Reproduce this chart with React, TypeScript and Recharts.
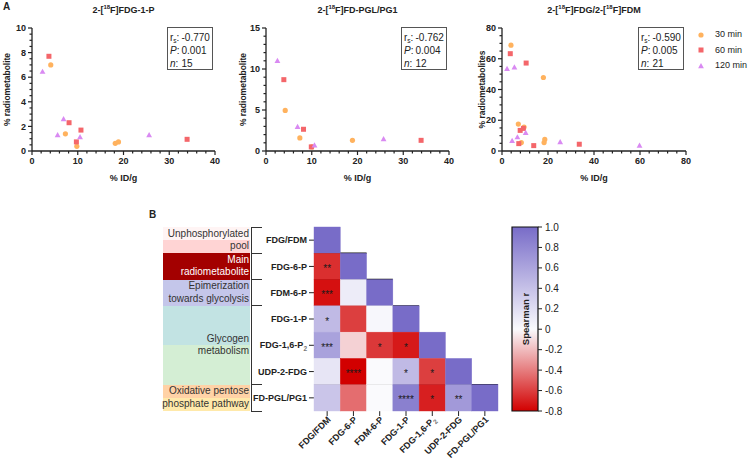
import React from 'react';
import {
  ScatterChart, Scatter, XAxis, YAxis, Legend, ReferenceLine, BarChart, Bar,
} from 'recharts';

const FONT = '"Liberation Sans", Arial, Helvetica, sans-serif';
const INK = '#222';

// ---- panel A ----
const timePoints = ['30 min', '60 min', '120 min'];
const timeColors = ['#ffb25e', '#f4666a', '#d98af2'];
const timeShapes = ['circle', 'square', 'triangle'];

// [% ID/g, % radiometabolite]
const fdg1p30 = [[4.1, 7.0], [7.3, 1.4], [9.8, 0.38], [18.2, 0.62], [18.9, 0.74]];
const fdg1p60 = [[3.7, 7.7], [8.1, 2.3], [10.7, 1.7], [9.7, 0.74], [33.9, 0.95]];
const fdg1p120 = [[2.3, 6.45], [6.9, 2.6], [5.6, 1.3], [10.5, 1.13], [25.6, 1.3]];

const pgl30 = [[4.2, 4.95], [7.4, 1.6], [10.0, 0.5], [18.9, 1.3]];
const pgl60 = [[3.9, 8.7], [8.2, 2.65], [9.9, 0.5], [33.9, 1.3]];
const pgl120 = [[2.5, 11.0], [6.9, 2.95], [10.6, 0.7], [25.7, 1.45]];

const fdm30 = [[3.9, 68.8], [18.0, 47.8], [7.1, 17.5], [9.6, 15.6], [8.4, 5.5], [18.6, 7.5], [18.3, 5.5]];
const fdm60 = [[3.6, 63.3], [10.5, 57.2], [7.9, 13.4], [9.3, 14.7], [7.3, 4.8], [13.8, 3.5], [33.6, 4.4]];
const fdm120 = [[2.2, 53.5], [5.4, 54.4], [4.4, 6.6], [6.7, 9.0], [10.3, 11.8], [25.3, 5.9], [59.8, 3.5]];

const fdg1pStats = ['-0.770', '0.001', '15'];
const pglStats = ['-0.762', '0.004', '12'];
const fdmStats = ['-0.590', '0.005', '21'];

// ---- panel B ----
const metabolites = ['FDG/FDM', 'FDG-6-P', 'FDM-6-P', 'FDG-1-P', 'FDG-1,6-P₂', 'UDP-2-FDG', 'FD-PGL/PG1'];
const spearman = [
  [1],
  [-0.65, 1],
  [-0.75, 0.1, 1],
  [0.45, -0.6, 0.02, 1],
  [0.62, -0.13, -0.62, -0.72, 1],
  [0.15, -0.8, 0.0, 0.45, -0.6, 1],
  [0.37, -0.45, 0.0, 0.86, -0.7, 0.68, 1],
];
const significance = [
  [''],
  ['**', ''],
  ['***', '', ''],
  ['*', '', '', ''],
  ['***', '', '*', '*', ''],
  ['', '****', '', '*', '*', ''],
  ['', '', '', '****', '*', '**', ''],
];
const colorbarTicks = [1, 0.8, 0.6, 0.4, 0.2, 0, -0.2, -0.4, -0.6, -0.8];

const groupNames = [
  ['Unphosphorylated', 'pool'],
  ['Main', 'radiometabolite'],
  ['Epimerization', 'towards glycolysis'],
  ['Glycogen', 'metabolism'],
  ['Oxidative pentose', 'phosphate pathway'],
];
const groupSizes = [1, 1, 1, 3, 1];
const groupColors = [
  ['#fff4f4', '#ffd4d4'],
  ['#a30000', '#a30000'],
  ['#c4c6ea', '#c4c6ea'],
  ['#c2e3e3', '#d4eed4'],
  ['#ffd2a6', '#ffe9aa'],
];

const toPts = (arr: number[][]) => arr.map(([x, y]) => ({ x, y }));
const steps = (max: number, step: number) => {
  const out: number[] = [];
  for (let v = 0; v <= max + 1e-9; v += step) out.push(Math.round(v * 100) / 100);
  return out;
};

const BLUE = [120, 108, 200];
const REDC = [210, 0, 0];
const WHITE = [250, 250, 253];
function rColor(v: number) {
  const end = v >= 0 ? BLUE : REDC;
  const t = v >= 0 ? v : Math.min(1, -v / 0.8);
  const c = WHITE.map((w, i) => Math.round(w + (end[i] - w) * t));
  return `rgb(${c.join(',')})`;
}

const renderName = (name: string) =>
  name.includes('₂') ? (
    <>
      {name.replace('₂', '')}
      <tspan fontSize={6.5} dy={2.5} fill="#777">2</tspan>
    </>
  ) : name;

const Marker = ({ type, color, cx, cy }: { type: string; color: string; cx: number; cy: number }) => {
  if (type === 'square') return <rect x={cx - 2.5} y={cy - 2.5} width={5} height={5} fill={color} />;
  if (type === 'triangle')
    return <polygon points={`${cx},${cy - 3} ${cx + 2.9},${cy + 2.2} ${cx - 2.9},${cy + 2.2}`} fill={color} />;
  return <circle cx={cx} cy={cy} r={2.6} fill={color} />;
};

const XTick = (p: any) => {
  const major = p.major.includes(p.payload.value);
  return (
    <g>
      <line x1={p.x} x2={p.x} y1={p.y} y2={p.y + (major ? 4 : 2.5)} stroke={INK} strokeWidth={1.2} />
      {major && (
        <text x={p.x} y={p.y + 6} dy="0.75em" textAnchor="middle" fontSize={9} fontWeight={700} fill={INK}>
          {p.payload.value}
        </text>
      )}
    </g>
  );
};

const YTick = (p: any) => {
  const major = p.major.includes(p.payload.value);
  return (
    <g>
      <line x1={p.x - (major ? 4 : 2.5)} x2={p.x} y1={p.y} y2={p.y} stroke={INK} strokeWidth={1.2} />
      {major && (
        <text x={p.x - 6} y={p.y} dy="0.35em" textAnchor="end" fontSize={9} fontWeight={700} fill={INK}>
          {p.payload.value}
        </text>
      )}
    </g>
  );
};

const TimeLegend = ({ payload }: any) => {
  const items = [...(payload || [])].sort(
    (a: any, b: any) => timePoints.indexOf(a.value) - timePoints.indexOf(b.value),
  );
  return (
    <div style={{ width: 60, fontSize: 9, color: INK, lineHeight: '15.5px', whiteSpace: 'nowrap', fontFamily: FONT }}>
      {items.map((e: any) => {
        const k = timePoints.indexOf(e.value);
        return (
          <div key={e.value} style={{ display: 'flex', alignItems: 'center' }}>
            <svg width={6} height={6} style={{ marginRight: 11, flexShrink: 0, display: 'block' }}>
              <Marker type={timeShapes[k]} color={timeColors[k]} cx={3} cy={3} />
            </svg>
            <span>{e.value}</span>
          </div>
        );
      })}
    </div>
  );
};

const StatsBox = ({ left, stats }: { left: number; stats: string[] }) => {
  const lab = { display: 'inline-block', width: 11.5 } as React.CSSProperties;
  return (
    <div style={{
      position: 'absolute', left, top: 27, width: 46, height: 43, border: '1px solid #555',
      boxSizing: 'border-box', fontSize: 10, lineHeight: '13px', color: INK, padding: '3px 0 0 2px',
    }}>
      <div><span style={lab}>r<span style={{ fontSize: 6.5, verticalAlign: -2, lineHeight: 0 }}>s</span>:</span>{stats[0]}</div>
      <div><span style={lab}><i>P</i>:</span>{stats[1]}</div>
      <div><span style={lab}><i>n</i>:</span>{stats[2]}</div>
    </div>
  );
};

const PLOT_TOP = 28;
const PLOT_BOTTOM = 151;

type PanelProps = {
  left: number; width: number; marginRight: number; title: React.ReactNode;
  yLabel: string; yLabelX: number;
  xMax: number; xMajor: number[]; xStep: number;
  yMax: number; yMajor: number[]; yStep: number;
  series: number[][][]; stats: string[]; showLegend?: boolean;
};

function ScatterPanel(props: PanelProps) {
  const { left, width, marginRight, title, yLabel, yLabelX, xMax, xMajor, xStep, yMax, yMajor, yStep, series, stats, showLegend } = props;
  const plotRight = width - marginRight;
  const plotCenter = (32 + plotRight) / 2;
  const labelY = (PLOT_TOP + PLOT_BOTTOM) / 2;
  return (
    <div style={{ position: 'absolute', left, top: 0, width, height: 185 }}>
      <ScatterChart width={width} height={185} margin={{ top: PLOT_TOP, right: marginRight, bottom: 0, left: 0 }}>
        <XAxis
          type="number" dataKey="x" domain={[0, xMax]} ticks={steps(xMax, xStep)} interval={0}
          tick={(p: any) => <XTick {...p} major={xMajor} />} tickLine={false} tickSize={0} tickMargin={0}
          height={185 - PLOT_BOTTOM} axisLine={{ stroke: INK, strokeWidth: 1.3 }}
          label={{ value: '% ID/g', position: 'insideBottom', offset: 4, fontSize: 9, fontWeight: 700, fill: INK }}
        />
        <YAxis
          type="number" dataKey="y" domain={[0, yMax]} ticks={steps(yMax, yStep)} interval={0}
          tick={(p: any) => <YTick {...p} major={yMajor} />} tickLine={false} tickSize={0} tickMargin={0}
          width={32} axisLine={{ stroke: INK, strokeWidth: 1.3 }}
          label={() => (
            <text
              x={yLabelX} y={labelY} textAnchor="middle" dominantBaseline="central" fontSize={8.5} fontWeight={700}
              fill={INK} transform={`rotate(-90 ${yLabelX} ${labelY})`}
            >
              {yLabel}
            </text>
          )}
        />
        {series.map((pts, k) => (
          <Scatter
            key={timePoints[k]} name={timePoints[k]} data={toPts(pts)} fill={timeColors[k]}
            shape={(p: any) => <Marker type={timeShapes[k]} color={timeColors[k]} cx={p.cx} cy={p.cy} />}
            legendType={timeShapes[k] as any} isAnimationActive={false}
          />
        ))}
        {showLegend && (
          <Legend
            content={<TimeLegend />}
            wrapperStyle={{ left: 228, top: 27, width: 0, height: 0, right: 'auto', bottom: 'auto' }}
          />
        )}
      </ScatterChart>
      <div style={{
        position: 'absolute', left: plotCenter - 100, width: 200, top: 4, textAlign: 'center',
        fontSize: 9, fontWeight: 700, color: INK, lineHeight: '12px',
      }}>
        {title}
      </div>
      <StatsBox left={plotRight - 48} stats={stats} />
    </div>
  );
}

const sup = (s: string) => <sup style={{ fontSize: 6, lineHeight: 0 }}>{s}</sup>;

// ---- heatmap geometry ----
const HM_LEFT = 314;
const HM_TOP = 227;
const HM_SIZE = 184;
const CELL = HM_SIZE / metabolites.length;

const heatCells = spearman.flatMap((row, i) =>
  row.map((v, j) => ({ col: j + 0.5, row: i + 0.5, v, star: significance[i][j] })),
);
const groupBreaks = groupSizes.slice(0, -1).map((_, i) => groupSizes.slice(0, i + 1).reduce((a, b) => a + b, 0));
const groupStarts = groupSizes.map((_, i) => groupSizes.slice(0, i).reduce((a, b) => a + b, 0));

const HeatCell = (p: any) => {
  const { cx, cy, payload } = p;
  const fill = rColor(payload.v);
  return (
    <g>
      <rect x={cx - CELL / 2} y={cy - CELL / 2} width={CELL} height={CELL} fill={fill} stroke={fill} strokeWidth={0.4} />
      {payload.star && (
        <text x={cx} y={cy + 5.5} textAnchor="middle" fontSize={10} fill="#1a1a1a">{payload.star}</text>
      )}
    </g>
  );
};

const HeatYTick = (p: any) => (
  <text x={p.x} y={p.y} dy="0.35em" textAnchor="end" fontSize={9} fontWeight={700} fill={INK}>
    {renderName(metabolites[Math.floor(p.payload.value)])}
  </text>
);

const HeatXTick = (p: any) => (
  <text
    x={p.x + 2} y={p.y} dy="0.35em" textAnchor="end" fontSize={9} fontWeight={700} fill={INK}
    transform={`rotate(-45 ${p.x + 2} ${p.y})`}
  >
    {renderName(metabolites[Math.floor(p.payload.value)])}
  </text>
);

const colorbarData = [{ name: 'r', range: [colorbarTicks[colorbarTicks.length - 1], colorbarTicks[0]] }];
const cellTicks = metabolites.map((_, i) => i + 0.5);

export default function App() {
  return (
    <div style={{ position: 'absolute', left: 0, top: 0, width: 748, height: 464, background: '#fff', fontFamily: FONT, overflow: 'hidden' }}>
      <div style={{ position: 'absolute', left: 3, top: 1, fontSize: 10, fontWeight: 700, color: INK }}>A</div>
      <ScatterPanel
        left={0} width={235} marginRight={20} title={<>2-[{sup('18')}F]FDG-1-P</>}
        yLabel="% radiometabolite" yLabelX={7}
        xMax={40} xMajor={[0, 10, 20, 30, 40]} xStep={2}
        yMax={10} yMajor={[0, 2, 4, 6, 8, 10]} yStep={0.5}
        series={[fdg1p30, fdg1p60, fdg1p120]} stats={fdg1pStats}
      />
      <ScatterPanel
        left={234} width={235} marginRight={20} title={<>2-[{sup('18')}F]FD-PGL/PG1</>}
        yLabel="% radiometabolite" yLabelX={9}
        xMax={40} xMajor={[0, 10, 20, 30, 40]} xStep={2}
        yMax={15} yMajor={[0, 5, 10, 15]} yStep={1}
        series={[pgl30, pgl60, pgl120]} stats={pglStats}
      />
      <ScatterPanel
        left={470} width={278} marginRight={62} title={<>2-[{sup('18')}F]FDG/2-[{sup('18')}F]FDM</>}
        yLabel="% radiometabolites" yLabelX={12}
        xMax={80} xMajor={[0, 20, 40, 60, 80]} xStep={4}
        yMax={80} yMajor={[0, 20, 40, 60, 80]} yStep={5}
        series={[fdm30, fdm60, fdm120]} stats={fdmStats} showLegend
      />

      <div style={{ position: 'absolute', left: 149, top: 209, fontSize: 10, fontWeight: 700, color: INK }}>B</div>

      {groupNames.map((lines, g) => {
        const top = HM_TOP + groupStarts[g] * CELL;
        const h = groupSizes[g] * CELL;
        const split = g === 3 ? 0.49 : 0.5;
        const dark = g === 1;
        return (
          <div key={g} style={{
            position: 'absolute', left: 163, top, width: 87, height: h,
            background: `linear-gradient(${groupColors[g][0]} 0, ${groupColors[g][0]} ${split * 100}%, ${groupColors[g][1]} ${split * 100}%, ${groupColors[g][1]} 100%)`,
            display: 'flex', flexDirection: 'column', justifyContent: 'center', alignItems: 'flex-end',
            fontSize: 10, lineHeight: '12.5px', color: dark ? '#fff' : '#333', paddingRight: 1, boxSizing: 'border-box',
          }}>
            {lines.map((l) => <div key={l} style={{ whiteSpace: 'nowrap' }}>{l}</div>)}
          </div>
        );
      })}
      <div style={{ position: 'absolute', left: 251, top: HM_TOP, width: 1, height: HM_SIZE, background: '#333' }} />
      {[0, ...groupBreaks, metabolites.length].map((b) => (
        <div key={b} style={{ position: 'absolute', left: 251, top: HM_TOP + b * CELL - 0.5, width: 11, height: 1, background: '#333' }} />
      ))}

      <div style={{ position: 'absolute', left: 250, top: 220 }}>
        <ScatterChart width={260} height={244} margin={{ top: HM_TOP - 220, right: 510 - HM_LEFT - HM_SIZE, bottom: 0, left: 0 }}>
          <XAxis
            type="number" dataKey="col" domain={[0, metabolites.length]} ticks={cellTicks} interval={0}
            tick={<HeatXTick />} tickSize={5} tickMargin={2} tickLine={{ stroke: INK }} axisLine={false} height={53}
          />
          <YAxis
            type="number" dataKey="row" domain={[0, metabolites.length]} reversed ticks={cellTicks} interval={0}
            tick={<HeatYTick />} tickSize={5} tickMargin={2} tickLine={{ stroke: INK }} axisLine={false} width={HM_LEFT - 250}
          />
          <Scatter data={heatCells} shape={HeatCell} isAnimationActive={false} />
          {groupBreaks.map((b) => (
            <ReferenceLine
              key={b} segment={[{ x: 0, y: b }, { x: b + 1, y: b }]} stroke="#111" strokeWidth={1.4} ifOverflow="visible"
            />
          ))}
        </ScatterChart>
      </div>

      <div style={{ position: 'absolute', left: 505, top: 220 }}>
        <BarChart width={75} height={200} data={colorbarData} margin={{ top: 7, right: 0, bottom: 9, left: 7 }} barCategoryGap={0}>
          <defs>
            <linearGradient id="spearmanGrad" x1="0" y1="0" x2="0" y2="1">
              <stop offset="0" stopColor={rColor(1)} />
              <stop offset={1 / 1.8} stopColor={rColor(0)} />
              <stop offset="1" stopColor={rColor(-0.8)} />
            </linearGradient>
          </defs>
          <XAxis dataKey="name" type="category" hide />
          <YAxis
            orientation="right" type="number" domain={[-0.8, 1]} ticks={colorbarTicks} interval={0} width={42}
            axisLine={false} tickSize={4} tickMargin={3} tickLine={{ stroke: INK }}
            tick={{ fontSize: 10, fill: INK }} tickFormatter={(v: number) => (v === 0 ? '0' : v.toFixed(1))}
          />
          <Bar
            dataKey="range" fill="url(#spearmanGrad)" stroke="#111" strokeWidth={1.2} isAnimationActive={false}
            label={(p: any) => (
              <text
                x={p.x + p.width / 2} y={p.y + p.height / 2} textAnchor="middle" dominantBaseline="central"
                fontSize={9.5} fontWeight={700} fill={INK}
                transform={`rotate(-90 ${p.x + p.width / 2} ${p.y + p.height / 2})`}
              >
                Spearman r
              </text>
            )}
          />
        </BarChart>
      </div>
    </div>
  );
}
